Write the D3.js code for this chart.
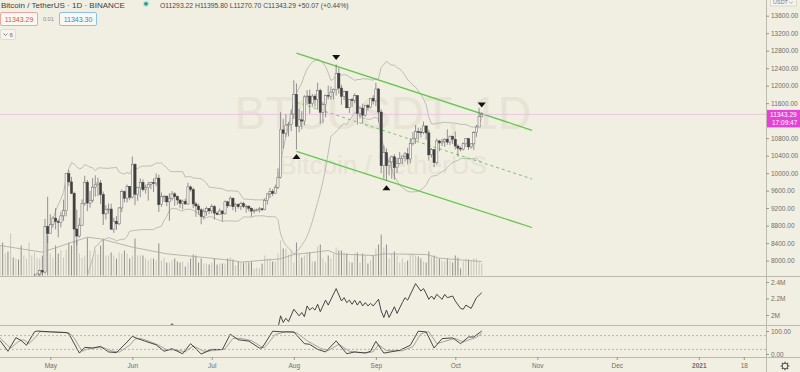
<!DOCTYPE html>
<html>
<head>
<meta charset="utf-8">
<script src="https://cdn.jsdelivr.net/npm/d3@7"></script>
<style>
  html, body { margin: 0; padding: 0; background: #f1eee2; }
  svg { display: block; font-family: "Liberation Sans", Arial, sans-serif; }
</style>
</head>
<body>
<div id="chart"></div>
<script>
// daily candles BTC/USDT, one per day starting 2020-04-12
var firstDay = "2020-04-12";

var opens = [6893,6906,6858,6876,6621,7096,7047,7257,7190,6880,6880,7120,7482,7505,7538,7693,7774,7738,8778,
  8620,8826,8972,8894,8871,9022,9143,9986,9800,9539,8722,8561,8810,9310,9792,9316,9381,9680,9733,9775,9511,9068,9170,9179,8720,8900,8841,9204,9575,9427,9697,
  9449,10200,9518,9666,9789,9621,9666,9746,9782,9772,9885,9280,9465,9474,9343,9426,9525,9465,9386,9310,9358,9294,9685,9624,9296,9249,9162,9012,9116,9192,
  9138,9232,9086,9058,9135,9069,9345,9253,9428,9233,9288,9234,9303,9243,9244,9197,9132,9151,9159,9185,9164,9374,9526,9581,9536,9677,9905,10990,10912,11100,11111,
  11351,11801,11071,11219,11191,11744,11762,11594,11761,11681,11892,11392,11564,11780,11760,11852,11911,12281,11945,11754,11866,11495,11681,11664,11774,11366,11488,11325,11542,11508,11711,
  11650,11924,11397,10171,10468,10169,10255,10373,10126,10221,10339,10391,10442,10323,10680,10786,10954,10939,10933,11080,10920,10418,10535,10241,10737,10690,10728,10775,10709,10844,
  10776,10620,10571,10550,10673,10787,10600,10669,10924,11055,11293.22];

var highs = [7177,6910,6977,6936,7190,7148,7293,7257,7220,6940,7145,7540,7615,7705,7700,7795,7780,8952,9460,
  9059,9010,9200,8950,9118,9395,9990,10067,9914,9574,9168,8978,9398,9939,9843,9592,9888,9950,9897,9842,9578,9266,9307,9298,8979,9017,9225,9625,9605,9740,9700,
  10380,10228,9690,9881,9854,9735,9802,9800,9877,9992,9964,9557,9494,9482,9540,9589,9565,9489,9399,9395,9417,9780,9720,9670,9340,9300,9196,9191,9235,9200,
  9292,9270,9125,9190,9145,9375,9365,9470,9440,9317,9305,9345,9343,9279,9265,9216,9187,9190,9228,9205,9420,9540,9657,9636,9737,10111,11394,11243,11350,11169,11454,
  12123,12050,11473,11418,11780,11900,11908,11805,11808,12067,11934,11618,11800,12000,11980,11934,12486,12400,12020,11888,11886,11686,11718,11824,11778,11530,11590,11547,11580,11719,11780,
  12067,11950,11462,10630,10568,10349,10400,10435,10350,10481,10400,10482,10580,10800,10940,11100,11040,11037,11180,11080,10990,10575,10550,10790,10760,10790,10800,11000,10860,10860,
  10950,10657,10605,10700,10800,10800,10683,10960,11100,11492,11395.8];

var lows = [6802,6575,6777,6610,6555,7000,7033,7052,6751,6780,6855,7020,7388,7432,7480,7622,7660,7710,8401,
  8613,8753,8712,8533,8760,8906,9011,9705,9520,8400,8350,8528,8792,9256,9130,9212,9330,9464,9474,9296,8815,8940,9070,8700,8632,8700,8811,9110,9330,9331,9381,
  9420,9266,9365,9450,9581,9531,9372,9633,9570,9704,9113,9232,9345,9245,8910,9373,9252,9280,9200,9170,9281,9281,9577,9201,9000,9050,8833,8938,9024,9064,
  9080,8940,9036,9045,8893,9055,9200,9234,9150,9110,9190,9157,9200,9097,9125,9005,9075,9121,9100,9131,9150,9280,9430,9475,9531,9636,9881,10565,10823,10841,10960,
  11240,10540,10936,11000,11093,11562,11356,11520,11520,11450,11125,11150,11280,11684,11680,11686,11774,11817,11562,11668,11480,11376,11514,11595,11111,11250,11136,11289,11430,11485,11570,
  11530,11160,10000,9875,9825,9951,9875,9850,10005,10200,10200,10261,10200,10220,10632,10670,10745,10813,10890,10760,10285,10355,10137,10195,10500,10620,10600,10648,10640,10666,
  10540,10374,10497,10520,10600,10530,10560,10530,10830,11055,11270.7];

var closes = [6906,6858,6876,6621,7096,7047,7257,7190,6880,6880,7120,7482,7505,7538,7693,7774,7738,8778,8620,
  8826,8972,8894,8871,9022,9143,9986,9800,9539,8722,8561,8810,9310,9792,9316,9381,9680,9733,9775,9511,9068,9170,9179,8720,8900,8841,9204,9575,9427,9697,9449,
  10200,9518,9666,9789,9621,9666,9746,9782,9772,9885,9280,9465,9474,9343,9426,9525,9465,9386,9310,9358,9294,9685,9624,9296,9249,9162,9012,9116,9192,9138,
  9232,9086,9058,9135,9069,9345,9253,9428,9233,9288,9234,9303,9243,9244,9197,9132,9151,9159,9185,9164,9374,9526,9581,9536,9677,9905,10990,10912,11100,11111,11351,
  11801,11071,11219,11191,11744,11762,11594,11761,11681,11892,11392,11564,11780,11760,11852,11911,12281,11945,11754,11866,11495,11681,11664,11774,11366,11488,11325,11542,11508,11711,11650,
  11924,11397,10171,10468,10169,10255,10373,10126,10221,10339,10391,10442,10323,10680,10786,10954,10939,10933,11080,10920,10418,10535,10241,10737,10690,10728,10775,10709,10844,10776,
  10620,10571,10550,10673,10787,10600,10669,10924,11055,11293,11343.29];

// volume, thousand BTC
var volumes = [90,99,66,72,126,54,51,48,90,60, 51,99,60,69,54,51,60,135,120,66,
  54,90,66,75,54,78,99,90,99,105, 66,54,60,114,75,54,75,63,90,111,
  60,60,69,60,51,69,66,75,66,51, 60,111,60,60,60,51,45,51,51,45,
  96,45,54,39,39,45,51,42,39,42, 27,39,51,63,60,39,51,36,36,33,
  39,51,33,36,36,36,51,54,48,30, 42,39,39,42,39,42,21,24,21,36,
  60,51,51,42,42,66,105,81,81,63, 75,39,99,66,54,60,69,69,42,42,
  87,93,51,39,60,51,66,84,75,75, 69,66,42,39,66,69,39,66,60,36,
  45,60,81,93,123,84,93,51,66,72, 60,39,51,39,45,66,66,60,57,51,
  42,39,72,54,60,51,51,45,42,51, 45,39,60,54,21,42,51,48,45,51,
  51,42,36];

// volume moving average (candle index, thousand BTC)
var volMaIdx = [0,16,33,38,50,63,76,88,91,106,111,117,124,127,141,145,161,166,172,182];
var volMaVals = [90,70,115,110,85,65,55,45,40,50,63,68,75,65,60,65,63,52,48,42];

// middle pane line (candle index, millions)
var obvIdx = [59,63,65,67,79,94,104,105,106,107,108,109,111,113,114,115,116,117,118,119,
  120,121,123,124,127,129,130,131,132,133,134,135,136,137,138,139,140,141,142,143,
  144,145,146,147,149,150,152,153,154,157,159,160,161,162,163,164,165,167,168,169,
  171,172,174,175,176,178,180,182];
var obvVals = [1.80,1.83,1.895,1.83,1.76,1.78,1.82,1.84,1.99,1.91,1.96,1.92,2.07,1.99,2.03,1.98,2.11,2.06,2.09,2.06,
  2.13,2.04,2.18,2.12,2.32,2.17,2.21,2.15,2.18,2.13,2.18,2.12,2.17,2.11,2.15,2.11,2.14,2.11,2.15,2.19,
  2.05,1.97,2.06,1.97,2.10,2.02,2.15,2.21,2.18,2.38,2.29,2.32,2.26,2.19,2.23,2.19,2.25,2.19,2.25,2.21,
  2.23,2.17,2.08,2.07,2.12,2.08,2.21,2.27];

// stochastic pane, %K and %D (candle index, 0-100)
var kIdx = [0,3,6,8,10,13,14,19,25,26,30,32,35,38,41,44,48,50,52,55,59,62,65,69,72,76,80,84,87,90,
  94,98,99,103,107,111,115,117,120,123,127,131,134,138,140,142,145,151,155,158,161,164,167,171,174,177,179,182];
var kVals = [59,12,71,59,38,96,100,96,93,88,4,29,26,33,9,6,52,77,67,55,40,12,23,1,45,0,20,19,86,62,
  56,26,26,99,96,96,45,42,20,9,57,1,9,4,12,55,4,16,38,99,96,26,67,70,45,74,74,100];
var dIdx = [0,4,7,9,11,14,15,19,26,28,31,33,36,39,42,45,49,51,53,56,60,63,66,70,73,77,81,85,88,91,
  95,99,100,104,108,112,116,118,121,124,128,132,135,139,141,143,146,152,156,159,162,165,168,172,175,178,180,182];
var dVals = [70,25,55,62,45,80,97,97,93,70,12,22,27,28,14,8,38,65,68,57,38,18,18,10,35,12,15,22,68,68,
  58,30,28,85,97,93,58,45,25,15,42,12,7,6,10,40,15,14,32,88,97,45,55,68,52,65,72,90];

// drawn channel (start / end date, prices)
var channelDates = ["2020-08-02", "2020-10-30"];
var channelUpper = [12745, 10980];
var channelMid = [11622, 9868];
var channelLower = [10500, 8757];

// pivot markers
var markerIdx = [112, 127, 146, 182];
var markerType = ["up", "down", "up", "down"];

// axis labels (11200 sits under the last price label)
var priceTicks = [8000, 8400, 8800, 9200, 9600, 10000, 10400, 10800, 11600, 12000, 12400, 12800, 13200, 13600];
var obvTicks = [2.0, 2.2, 2.4];
var stochTicks = [0, 100];
var timeTicks = ["2020-05-01","2020-06-01","2020-07-01","2020-08-01","2020-09-01","2020-10-01","2020-11-01","2020-12-01","2021-01-01","2021-01-18"];
var timeLabels = ["May","Jun","Jul","Aug","Sep","Oct","Nov","Dec","2021","18"];

var lastPrice = 11343.29;

// ---------------------------------------------------------------
var w = 800, h = 372, plotW = 766;
var svg = d3.select("#chart").append("svg").attr("width", w).attr("height", h);

var parse = d3.utcParse("%Y-%m-%d");
var day0 = parse(firstDay);
function dayAt(i) { return d3.utcDay.offset(day0, i); }

var x = d3.scaleUtc()
    .domain([parse("2020-05-01"), parse("2021-01-01")])
    .range([50.3, 698.8]);

var yPrice = d3.scaleLinear().domain([8000, 13600]).range([260.6, 15.7]);
var yVol = d3.scaleLinear().domain([0, 150]).range([275.5, 225.5]);
var yObv = d3.scaleLinear().domain([2.0, 2.4]).range([315, 282]);
var yStoch = d3.scaleLinear().domain([0, 100]).range([354, 331]);

var candles = closes.map(function(c, i) {
    return {date: dayAt(i), o: opens[i], h: highs[i], l: lows[i], c: c, v: volumes[i]};
});

// clip areas for the three panes
var defs = svg.append("defs");
function clip(id, y0, y1) {
    defs.append("clipPath").attr("id", id).append("rect")
        .attr("x", 0).attr("y", y0).attr("width", plotW).attr("height", y1 - y0);
}
clip("clipMain", 0, 276);
clip("clipObv", 276.5, 325.5);
clip("clipStoch", 326, 357);

var main = svg.append("g").attr("clip-path", "url(#clipMain)");

// watermark
main.append("text").attr("x", 383).attr("y", 129).attr("text-anchor", "middle")
    .attr("font-size", "46px").attr("fill", "#e7e3d5").text("BTCUSDT, 1D");
main.append("text").attr("x", 383).attr("y", 174).attr("text-anchor", "middle")
    .attr("font-size", "26px").attr("fill", "#e7e3d5").text("Bitcoin / TetherUS");

// volume bars
main.selectAll(".vol").data(candles).enter().append("rect")
    .attr("x", function(d) { return x(d.date) - 0.5; })
    .attr("width", 1)
    .attr("y", function(d) { return yVol(d.v); })
    .attr("height", function(d) { return yVol(0) - yVol(d.v); })
    .attr("fill", function(d) { return d.c >= d.o ? "#c9c6bb" : "#929089"; });

var volMa = volMaIdx.map(function(i, k) { return {date: dayAt(i), v: volMaVals[k]}; });
main.append("path").datum(volMa)
    .attr("fill", "none").attr("stroke", "#aaa79f").attr("stroke-width", 0.8)
    .attr("d", d3.line().x(function(d) { return x(d.date); }).y(function(d) { return yVol(d.v); }));

// bollinger bands 20, 2
var bbUp = [], bbLo = [];
for (var i = 19; i < closes.length; i++) {
    var win = closes.slice(i - 19, i + 1);
    var m = d3.mean(win);
    var sd = Math.sqrt(d3.mean(win, function(v) { return (v - m) * (v - m); }));
    bbUp.push({date: dayAt(i), v: m + 2 * sd});
    bbLo.push({date: dayAt(i), v: m - 2 * sd});
}
var priceLine = d3.line().x(function(d) { return x(d.date); }).y(function(d) { return yPrice(d.v); });
[bbUp, bbLo].forEach(function(s) {
    main.append("path").datum(s)
        .attr("fill", "none").attr("stroke", "#b3b0a7").attr("stroke-width", 0.8)
        .attr("d", priceLine);
});

// channel
var cd = channelDates.map(parse);
function channel(vals, dash) {
    main.append("path").datum([{date: cd[0], v: vals[0]}, {date: cd[1], v: vals[1]}])
        .attr("fill", "none").attr("stroke", "#5fc84a").attr("stroke-width", dash ? 0.9 : 1.3)
        .attr("stroke-dasharray", dash ? "3,3" : null)
        .attr("d", priceLine);
}
channel(channelUpper, false);
channel(channelLower, false);
channel(channelMid, true);

// last price line
main.append("line").attr("x1", 0).attr("x2", plotW)
    .attr("y1", yPrice(lastPrice)).attr("y2", yPrice(lastPrice))
    .attr("stroke", "#ebbde3").attr("stroke-width", 0.8);

// candles
var cg = main.append("g");
cg.selectAll(".wick").data(candles).enter().append("line")
    .attr("x1", function(d) { return x(d.date); })
    .attr("x2", function(d) { return x(d.date); })
    .attr("y1", function(d) { return yPrice(d.h); })
    .attr("y2", function(d) { return yPrice(d.l); })
    .attr("stroke", "#6a6a6a").attr("stroke-width", 0.7);
cg.selectAll(".body").data(candles).enter().append("rect")
    .attr("x", function(d) { return x(d.date) - 1.1; })
    .attr("width", 2.2)
    .attr("y", function(d) { return yPrice(Math.max(d.o, d.c)); })
    .attr("height", function(d) { return Math.max(0.8, Math.abs(yPrice(d.o) - yPrice(d.c))); })
    .attr("fill", function(d) { return d.c >= d.o ? "#f3f1ea" : "#404040"; })
    .attr("stroke", function(d) { return d.c >= d.o ? "#666" : "#404040"; })
    .attr("stroke-width", 0.5);

// pivot markers
markerIdx.forEach(function(i, k) {
    var d = candles[i], cx = x(d.date), p;
    if (markerType[k] === "down") {
        var y = yPrice(d.h) - 7;
        p = "M" + (cx - 4) + "," + (y - 2.5) + "L" + (cx + 4) + "," + (y - 2.5) + "L" + cx + "," + (y + 2.5) + "Z";
    } else {
        var y2 = yPrice(d.l) + 7;
        p = "M" + (cx - 4) + "," + (y2 + 2.5) + "L" + (cx + 4) + "," + (y2 + 2.5) + "L" + cx + "," + (y2 - 2.5) + "Z";
    }
    main.append("path").attr("d", p).attr("fill", "#111");
});

// middle pane line
var obv = obvIdx.map(function(i, k) { return {date: dayAt(i), v: obvVals[k]}; });
svg.append("g").attr("clip-path", "url(#clipObv)").append("path").datum(obv)
    .attr("fill", "none").attr("stroke", "#333").attr("stroke-width", 0.9)
    .attr("d", d3.line().x(function(d) { return x(d.date); }).y(function(d) { return yObv(d.v); }));

// stochastic pane
var sg = svg.append("g").attr("clip-path", "url(#clipStoch)");
[80, 20].forEach(function(v) {
    svg.append("line").attr("x1", 0).attr("x2", plotW)
        .attr("y1", yStoch(v)).attr("y2", yStoch(v))
        .attr("stroke", "#a9a69d").attr("stroke-width", 0.8).attr("stroke-dasharray", "2,2");
});
var stochLine = d3.line().x(function(d) { return x(d.date); }).y(function(d) { return yStoch(d.v); });
sg.append("path").datum(dIdx.map(function(i, k) { return {date: dayAt(i), v: dVals[k]}; }))
    .attr("fill", "none").attr("stroke", "#9c9a93").attr("stroke-width", 0.9).attr("d", stochLine);
sg.append("path").datum(kIdx.map(function(i, k) { return {date: dayAt(i), v: kVals[k]}; }))
    .attr("fill", "none").attr("stroke", "#333").attr("stroke-width", 0.9).attr("d", stochLine);

// pane separators
[276.5, 325.5, 357.5].forEach(function(y) {
    svg.append("line").attr("x1", 0).attr("x2", w).attr("y1", y).attr("y2", y)
        .attr("stroke", "#bdbab0").attr("stroke-width", 1);
});
svg.append("line").attr("x1", plotW + 0.5).attr("x2", plotW + 0.5).attr("y1", 0).attr("y2", h)
    .attr("stroke", "#bdbab0").attr("stroke-width", 1);

// axes
function styleAxis(g) {
    g.select(".domain").remove();
    g.selectAll("text").attr("font-size", "6.5px").attr("fill", "#6e6e6e")
        .attr("font-family", "Liberation Sans, Arial, sans-serif");
    g.selectAll("line").attr("stroke", "#9a978e");
}
svg.append("g").attr("transform", "translate(" + plotW + ",0)")
    .call(d3.axisRight(yPrice).tickValues(priceTicks).tickFormat(d3.format(".2f")).tickSize(3).tickPadding(2))
    .call(styleAxis);
svg.append("g").attr("transform", "translate(" + plotW + ",0)")
    .call(d3.axisRight(yObv).tickValues(obvTicks).tickFormat(function(v) { return d3.format(".1~f")(v) + "M"; }).tickSize(3).tickPadding(2))
    .call(styleAxis);
svg.append("g").attr("transform", "translate(" + plotW + ",0)")
    .call(d3.axisRight(yStoch).tickValues(stochTicks).tickFormat(d3.format(".2f")).tickSize(3).tickPadding(2))
    .call(styleAxis);
var tx = svg.append("g").attr("transform", "translate(0,357)")
    .call(d3.axisBottom(x).tickValues(timeTicks.map(parse))
        .tickFormat(function(d, i) { return timeLabels[i]; }).tickSize(3).tickPadding(3))
    .call(styleAxis);
tx.selectAll("text").filter(function(d, i) { return timeLabels[i] === "2021"; }).attr("font-weight", "bold");

// last price label
var ly = yPrice(lastPrice);
svg.append("rect").attr("x", plotW + 1).attr("y", ly - 4.5).attr("width", 34).attr("height", 17.5)
    .attr("fill", "#e441d6");
svg.append("text").attr("x", plotW + 4).attr("y", ly + 2.3).attr("font-size", "6.5px")
    .attr("fill", "#fff").text(d3.format(".2f")(lastPrice));
svg.append("text").attr("x", plotW + 6).attr("y", ly + 11).attr("font-size", "6.5px")
    .attr("fill", "#fff").text("17:09:47");

// currency box top right
svg.append("rect").attr("x", 770.5).attr("y", -4).attr("width", 26).attr("height", 10)
    .attr("fill", "#f6f4ec").attr("stroke", "#cfccc2").attr("stroke-width", 0.7);
svg.append("text").attr("x", 773).attr("y", 4).attr("font-size", "5.5px").attr("fill", "#777").text("USDT");
svg.append("path").attr("d", "M789,1.5L791,3.5L793,1.5").attr("fill", "none").attr("stroke", "#888").attr("stroke-width", 0.7);

// gear icon
var gear = svg.append("g").attr("transform", "translate(785,366)");
d3.range(8).forEach(function(k) {
    var a = k * Math.PI / 4;
    gear.append("line").attr("x1", 2.8 * Math.cos(a)).attr("y1", 2.8 * Math.sin(a))
        .attr("x2", 4.3 * Math.cos(a)).attr("y2", 4.3 * Math.sin(a))
        .attr("stroke", "#555").attr("stroke-width", 1.3);
});
gear.append("circle").attr("r", 2.8).attr("fill", "none").attr("stroke", "#555").attr("stroke-width", 1);

// legend top left
svg.append("text").attr("x", 1).attr("y", 7.5).attr("font-size", "8px").attr("fill", "#3f3f3f")
    .text("Bitcoin / TetherUS \u00b7 1D \u00b7 BINANCE");
svg.append("circle").attr("cx", 146).attr("cy", 3.8).attr("r", 3.3).attr("fill", "#c9e6df");
svg.append("circle").attr("cx", 146).attr("cy", 3.8).attr("r", 1.9).attr("fill", "#1f9e8e");
var last = candles[candles.length - 1];
svg.append("text").attr("x", 160).attr("y", 7.5).attr("font-size", "6.8px").attr("fill", "#4a4a4a")
    .text("O" + d3.format(".2f")(last.o) + " H" + d3.format(".2f")(last.h) + " L" + d3.format(".2f")(last.l) +
          " C" + d3.format(".2f")(last.c) + " +50.07 (+0.44%)");

svg.append("rect").attr("x", 0.5).attr("y", 12.5).attr("width", 37).attr("height", 13)
    .attr("fill", "#faf8f2").attr("stroke", "#ef8e8b").attr("stroke-width", 0.8).attr("rx", 1.5);
svg.append("text").attr("x", 19).attr("y", 21.5).attr("text-anchor", "middle").attr("font-size", "7px")
    .attr("fill", "#e0504d").text("11343.29");
svg.append("text").attr("x", 43).attr("y", 21).attr("font-size", "5.5px").attr("fill", "#888").text("0.01");
svg.append("rect").attr("x", 59.5).attr("y", 12.5).attr("width", 37).attr("height", 13)
    .attr("fill", "#faf8f2").attr("stroke", "#6fb3ea").attr("stroke-width", 0.8).attr("rx", 1.5);
svg.append("text").attr("x", 78).attr("y", 21.5).attr("text-anchor", "middle").attr("font-size", "7px")
    .attr("fill", "#2b8bd8").text("11343.30");

svg.append("rect").attr("x", 0.5).attr("y", 29.5).attr("width", 15).attr("height", 10)
    .attr("fill", "#f6f4ec").attr("stroke", "#d6d3c9").attr("stroke-width", 0.7).attr("rx", 1.5);
svg.append("path").attr("d", "M3.5,33.5L5.5,35.5L7.5,33.5").attr("fill", "none").attr("stroke", "#666").attr("stroke-width", 0.8);
svg.append("text").attr("x", 9.5).attr("y", 37).attr("font-size", "6px").attr("fill", "#666").text("6");
</script>
</body>
</html>
